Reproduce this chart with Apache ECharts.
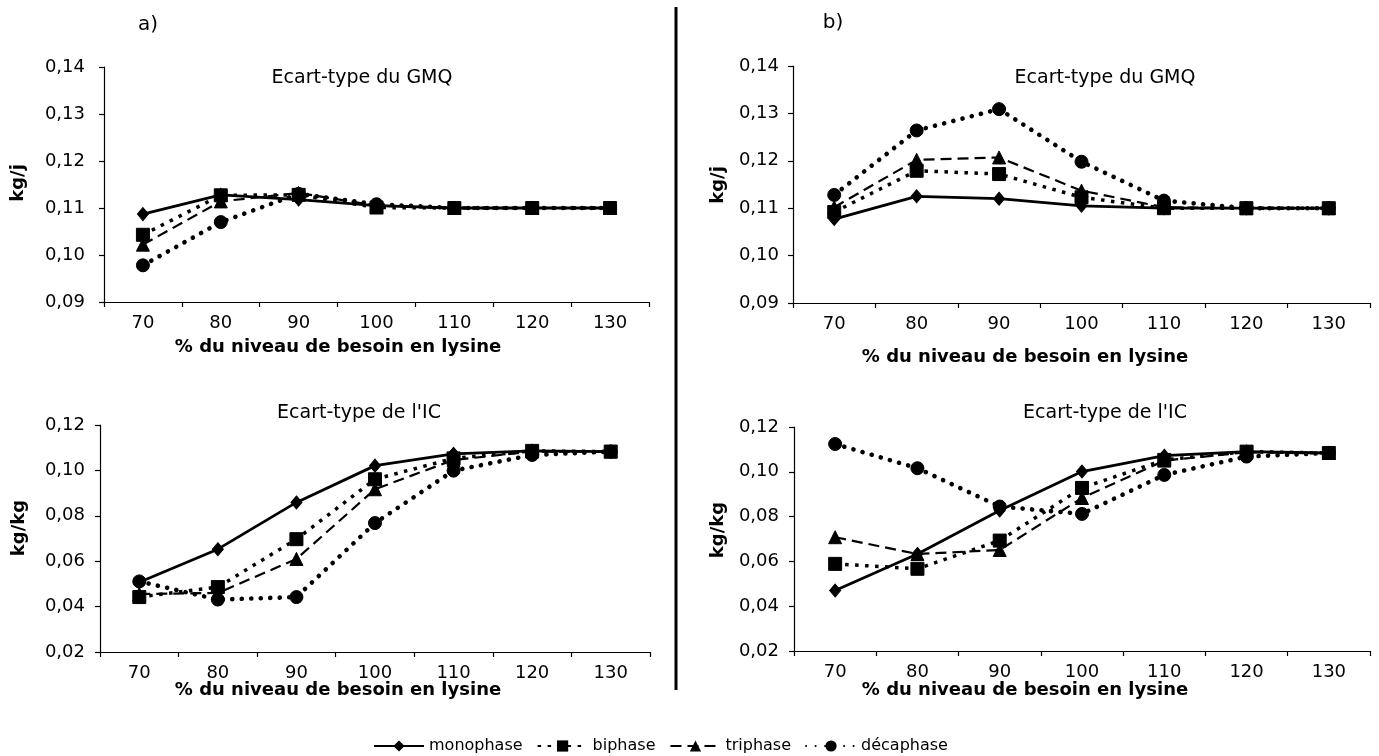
<!DOCTYPE html>
<html>
<head>
<meta charset="utf-8">
<script src="https://cdn.jsdelivr.net/npm/echarts@6/dist/echarts.min.js"></script>
<style>
html,body{margin:0;padding:0;background:#fff;}
#chart{width:1379px;height:756px;}
</style>
</head>
<body>
<div id="chart"></div>
<script>
// ---- data ----
const categories = ['70', '80', '90', '100', '110', '120', '130'];
const seriesNames = ['monophase', 'biphase', 'triphase', 'décaphase'];
const panelTitles = ['Ecart-type du GMQ', 'Ecart-type du GMQ', "Ecart-type de l'IC", "Ecart-type de l'IC"];
const panelLetters = ['a)', 'b)'];
const xAxisTitle = '% du niveau de besoin en lysine';
const yAxisTitles = ['kg/j', 'kg/j', 'kg/kg', 'kg/kg'];

// panel a, GMQ
const gmqA_mono = [0.1087, 0.1128, 0.1118, 0.1105, 0.1100, 0.1100, 0.1100];
const gmqA_bi   = [0.1043, 0.1127, 0.1128, 0.1101, 0.1100, 0.1100, 0.1100];
const gmqA_tri  = [0.1022, 0.1114, 0.1132, 0.1105, 0.1100, 0.1100, 0.1100];
const gmqA_deca = [0.0978, 0.1070, 0.1130, 0.1108, 0.1100, 0.1100, 0.1100];
// panel b, GMQ
const gmqB_mono = [0.1077, 0.1125, 0.1120, 0.1105, 0.1100, 0.1100, 0.1100];
const gmqB_bi   = [0.1092, 0.1179, 0.1172, 0.1123, 0.1100, 0.1100, 0.1100];
const gmqB_tri  = [0.1102, 0.1202, 0.1207, 0.1137, 0.1102, 0.1100, 0.1100];
const gmqB_deca = [0.1128, 0.1264, 0.1309, 0.1198, 0.1116, 0.1100, 0.1100];
// panel a, IC
const icA_mono = [0.0507, 0.0653, 0.0859, 0.1021, 0.1073, 0.1086, 0.1083];
const icA_bi   = [0.0442, 0.0486, 0.0697, 0.0961, 0.1053, 0.1086, 0.1083];
const icA_tri  = [0.0455, 0.0460, 0.0610, 0.0917, 0.1046, 0.1083, 0.1083];
const icA_deca = [0.0511, 0.0431, 0.0442, 0.0768, 0.0999, 0.1068, 0.1083];
// panel b, IC
const icB_mono = [0.0470, 0.0633, 0.0827, 0.1001, 0.1072, 0.1090, 0.1084];
const icB_bi   = [0.0589, 0.0567, 0.0693, 0.0928, 0.1053, 0.1090, 0.1084];
const icB_tri  = [0.0708, 0.0633, 0.0651, 0.0883, 0.1050, 0.1087, 0.1084];
const icB_deca = [0.1124, 0.1016, 0.0845, 0.0812, 0.0986, 0.1068, 0.1084];

const panelData = [
  [gmqA_mono, gmqA_bi, gmqA_tri, gmqA_deca],
  [gmqB_mono, gmqB_bi, gmqB_tri, gmqB_deca],
  [icA_mono, icA_bi, icA_tri, icA_deca],
  [icB_mono, icB_bi, icB_tri, icB_deca]
];
const yRanges = [[0.09, 0.14, 0.01], [0.09, 0.14, 0.01], [0.02, 0.12, 0.02], [0.02, 0.12, 0.02]];

// ---- layout ----
const FONT = '"DejaVu Sans", sans-serif';
const grids = [
  {left: 104, width: 545, top: 67, height: 235},
  {left: 793, width: 577, top: 66, height: 237},
  {left: 100, width: 550, top: 425, height: 227},
  {left: 794, width: 576, top: 427, height: 224}
];
const yLabelMargins = [19, 14, 15, 15];

const styles = [
  {symbol: 'diamond', symbolSize: [11, 13], lineStyle: {type: 'solid', width: 2.8}, z: 3},
  {symbol: 'rect', symbolSize: 13, lineStyle: {type: [3.5, 6.5], width: 3.5, cap: 'butt'}, z: 6},
  {symbol: 'triangle', symbolSize: 13, lineStyle: {type: [11, 6], width: 2.2, cap: 'butt'}, z: 4},
  {symbol: 'circle', symbolSize: 13, lineStyle: {type: [0.1, 9.4], width: 4.6, cap: 'round'}, z: 5}
];

const xAxes = grids.map((g, i) => ({
  type: 'category', gridIndex: i, data: categories, boundaryGap: true,
  axisLine: {lineStyle: {color: '#000', width: 1.2}},
  axisTick: {show: true, length: 5, lineStyle: {color: '#000', width: 1.2}},
  axisLabel: {color: '#000', fontSize: 18, fontFamily: FONT, margin: 12}
}));

const yAxes = grids.map((g, i) => ({
  type: 'value', gridIndex: i, min: yRanges[i][0], max: yRanges[i][1], interval: yRanges[i][2],
  axisLine: {show: true, lineStyle: {color: '#000', width: 1.2}},
  axisTick: {show: true, length: 5, lineStyle: {color: '#000', width: 1.2}},
  splitLine: {show: false},
  axisLabel: {color: '#000', fontSize: 18, fontFamily: FONT, margin: yLabelMargins[i],
    formatter: v => v.toFixed(2).replace('.', ',')}
}));

const series = [];
panelData.forEach((arrs, p) => {
  arrs.forEach((vals, s) => {
    const st = styles[s];
    series.push({
      name: seriesNames[s], type: 'line', xAxisIndex: p, yAxisIndex: p,
      data: vals, symbol: st.symbol, symbolSize: st.symbolSize, z: st.z,
      showAllSymbol: true,
      itemStyle: {color: '#000', borderColor: '#000'},
      lineStyle: Object.assign({color: '#000'}, st.lineStyle),
      animation: false
    });
  });
});

const titles = [
  {text: panelTitles[0], left: 362, top: 69},
  {text: panelTitles[1], left: 1105, top: 69},
  {text: panelTitles[2], left: 359, top: 404},
  {text: panelTitles[3], left: 1105, top: 404}
].map(t => ({
  text: t.text, left: t.left, top: t.top, textAlign: 'center', padding: 0,
  textStyle: {fontFamily: FONT, fontSize: 19, fontWeight: 'normal', color: '#000'}
}));

function txt(x, y, s, font, rot) {
  const o = {type: 'text', x: x, y: y, style: {text: s, font: font, fill: '#000', textAlign: 'center', textVerticalAlign: 'middle'}};
  if (rot) o.rotation = rot;
  return o;
}
const BOLD = 'bold 18px ' + FONT;
const graphics = [
  {type: 'line', shape: {x1: 676, y1: 7, x2: 676, y2: 690}, style: {stroke: '#000', lineWidth: 3}},
  txt(148, 25, panelLetters[0], '20px ' + FONT),
  txt(833, 23, panelLetters[1], '20px ' + FONT),
  txt(338, 347, xAxisTitle, BOLD),
  txt(1025, 357, xAxisTitle, BOLD),
  txt(338, 690, xAxisTitle, BOLD),
  txt(1025, 690, xAxisTitle, BOLD),
  txt(18, 183, yAxisTitles[0], BOLD, Math.PI / 2),
  txt(718, 185, yAxisTitles[1], BOLD, Math.PI / 2),
  txt(19, 528, yAxisTitles[2], BOLD, Math.PI / 2),
  txt(718, 530, yAxisTitles[3], BOLD, Math.PI / 2)
];

const chart = echarts.init(document.getElementById('chart'), null, {renderer: 'canvas'});
chart.setOption({
  backgroundColor: '#fff',
  animation: false,
  title: titles,
  grid: grids,
  xAxis: xAxes,
  yAxis: yAxes,
  series: series,
  legend: {
    data: seriesNames, left: 368, top: 733, itemWidth: 50, itemHeight: 14, itemGap: 14,
    textStyle: {fontFamily: FONT, fontSize: 16, color: '#000'},
    inactiveColor: '#000'
  },
  graphic: graphics
});
</script>
</body>
</html>
